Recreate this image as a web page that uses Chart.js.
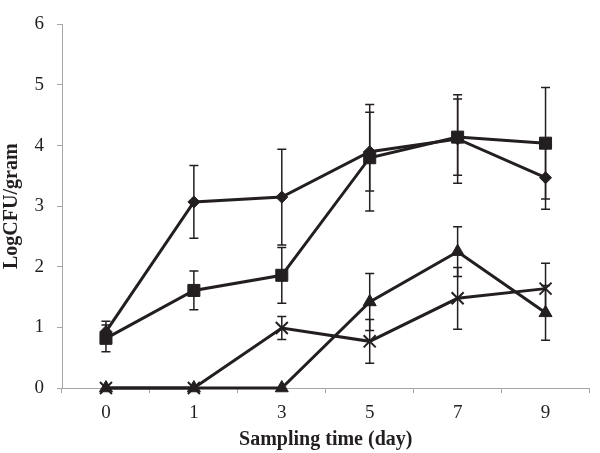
<!DOCTYPE html>
<html>
<head>
<meta charset="utf-8">
<script src="https://cdn.jsdelivr.net/npm/chart.js@4"></script>
<style>
  html, body { margin: 0; padding: 0; background: #ffffff; }
  #wrap { width: 600px; height: 453px; position: relative; }
</style>
</head>
<body>
<div id="wrap"><canvas id="c" width="600" height="453"></canvas></div>
<script>
// Sampling days (category axis)
const days = ['0', '1', '3', '5', '7', '9'];

// Series values (LogCFU/gram) and their error bar half-lengths
const diamondVals = [0.93, 3.07, 3.15, 3.90, 4.11, 3.47];
const diamondErr  = [0.17, 0.60, 0.79, 0.65, 0.73, 0.52];

const squareVals  = [0.82, 1.61, 1.86, 3.80, 4.14, 4.04];
const squareErr   = [0.22, 0.32, 0.46, 0.88, 0.63, 0.92];

const triangleVals = [0, 0, 0, 1.42, 2.25, 1.24];
const triangleErr  = [0, 0, 0, 0.47, 0.41, 0.45];

const crossVals = [0, 0, 0.99, 0.77, 1.48, 1.64];
const crossErr  = [0, 0, 0.19, 0.36, 0.51, 0.42];

// Y tick values
const yTicks = [0, 1, 2, 3, 4, 5, 6];

const INK = '#231f20';
const AXIS = '#a6a6a6';

const errorBarPlugin = {
  id: 'errorBars',
  beforeDatasetsDraw(chart) {
    const ctx = chart.ctx;
    const yScale = chart.scales.y;
    ctx.save();
    ctx.strokeStyle = INK;
    ctx.lineWidth = 1.5;
    chart.data.datasets.forEach((ds, di) => {
      const meta = chart.getDatasetMeta(di);
      if (!ds.errors) return;
      meta.data.forEach((pt, i) => {
        const e = ds.errors[i];
        const v = ds.data[i];
        if (!e) return;
        const x = pt.x;
        const yTop = yScale.getPixelForValue(v + e);
        const yBot = yScale.getPixelForValue(v - e);
        const cap = 4.5;
        ctx.beginPath();
        ctx.moveTo(x, yTop); ctx.lineTo(x, yBot);
        ctx.moveTo(x - cap, yTop); ctx.lineTo(x + cap, yTop);
        ctx.moveTo(x - cap, yBot); ctx.lineTo(x + cap, yBot);
        ctx.stroke();
      });
    });
    ctx.restore();
  }
};

function series(label, vals, errs, style, radius, pbw) {
  return {
    label: label,
    data: vals,
    errors: errs,
    borderColor: INK,
    backgroundColor: INK,
    borderWidth: 3,
    pointStyle: style,
    pointRadius: radius,
    pointHoverRadius: radius,
    pointBackgroundColor: INK,
    pointBorderColor: INK,
    pointBorderWidth: pbw,
    tension: 0,
    fill: false,
    clip: false
  };
}

new Chart(document.getElementById('c'), {
  type: 'line',
  data: {
    labels: days,
    datasets: [
      series('Diamond', diamondVals, diamondErr, 'rectRot', 6, 1),
      series('Square', squareVals, squareErr, 'rect', 8.5, 1),
      series('Triangle', triangleVals, triangleErr, 'triangle', 7.5, 1),
      series('Cross', crossVals, crossErr, 'crossRot', 8.5, 2)
    ]
  },
  options: {
    responsive: false,
    animation: false,
    events: [],
    layout: { padding: { left: 0, right: 2, top: 11, bottom: 0 } },
    plugins: {
      legend: { display: false },
      tooltip: { enabled: false }
    },
    scales: {
      x: {
        type: 'category',
        offset: true,
        grid: {
          offset: true,
          drawOnChartArea: false,
          drawTicks: true,
          tickLength: 5,
          color: AXIS,
          lineWidth: 1
        },
        border: { display: true, color: AXIS, width: 1 },
        ticks: {
          color: INK,
          padding: 9,
          font: { family: 'Liberation Serif', size: 19 }
        },
        title: {
          display: true,
          text: 'Sampling time (day)',
          color: INK,
          padding: { top: 0, bottom: 1 },
          font: { family: 'Liberation Serif', size: 20, weight: 'bold' }
        },
        afterFit(scale) { scale.height = 65; }
      },
      y: {
        min: 0,
        max: 6,
        afterBuildTicks(scale) { scale.ticks = yTicks.map(v => ({ value: v })); },
        grid: {
          drawOnChartArea: false,
          drawTicks: true,
          tickLength: 5,
          color: AXIS,
          lineWidth: 1
        },
        border: { display: true, color: AXIS, width: 1 },
        ticks: {
          color: INK,
          padding: 13,
          font: { family: 'Liberation Serif', size: 19 }
        },
        title: {
          display: true,
          text: 'LogCFU/gram',
          color: INK,
          padding: { top: 0, bottom: 0 },
          font: { family: 'Liberation Serif', size: 20, weight: 'bold' }
        },
        afterFit(scale) { scale.width = 62; }
      }
    }
  },
  plugins: [errorBarPlugin]
});
</script>
</body>
</html>
